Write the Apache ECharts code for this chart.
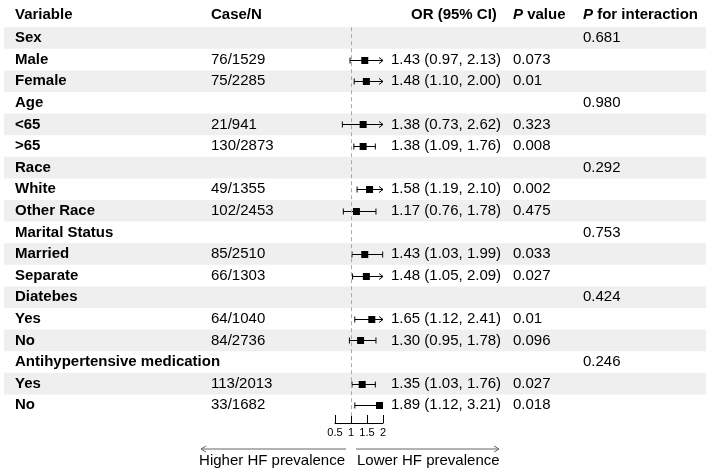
<!DOCTYPE html>
<html>
<head>
<meta charset="utf-8">
<title>Forest plot</title>
<script src="https://cdn.jsdelivr.net/npm/echarts@6/dist/echarts.min.js"></script>
<style>
  html, body { margin: 0; padding: 0; background: #fff; }
  #main { width: 706px; height: 472px; }
</style>
</head>
<body>
<div id="main"></div>
<script>
// rows, top to bottom
const variables = ['Sex', 'Male', 'Female', 'Age', '<65', '>65', 'Race', 'White', 'Other Race',
    'Marital Status', 'Married', 'Separate', 'Diatebes', 'Yes', 'No',
    'Antihypertensive medication', 'Yes', 'No'];
const caseN = ['', '76/1529', '75/2285', '', '21/941', '130/2873', '', '49/1355', '102/2453',
    '', '85/2510', '66/1303', '', '64/1040', '84/2736', '', '113/2013', '33/1682'];
const orValue = [null, 1.43, 1.48, null, 1.38, 1.38, null, 1.58, 1.17,
    null, 1.43, 1.48, null, 1.65, 1.30, null, 1.35, 1.89];
const ciLower = [null, 0.97, 1.10, null, 0.73, 1.09, null, 1.19, 0.76,
    null, 1.03, 1.05, null, 1.12, 0.95, null, 1.03, 1.12];
const ciUpper = [null, 2.13, 2.00, null, 2.62, 1.76, null, 2.10, 1.78,
    null, 1.99, 2.09, null, 2.41, 1.78, null, 1.76, 3.21];
const pValue = ['', '0.073', '0.01', '', '0.323', '0.008', '', '0.002', '0.475',
    '', '0.033', '0.027', '', '0.01', '0.096', '', '0.027', '0.018'];
const pInteraction = ['0.681', '', '', '0.980', '', '', '0.292', '', '',
    '0.753', '', '', '0.424', '', '', '0.246', '', ''];
const xTicks = [0.5, 1, 1.5, 2];

const FONT = '"Liberation Sans", Arial, Helvetica, sans-serif';
const X_MIN = xTicks[0], X_MAX = xTicks[xTicks.length - 1];
const rowIdx = variables.map((v, i) => String(i));

// layout
const TOP = 27.2, ROW_H = 21.6;
const HEIGHT = variables.length * ROW_H;
const col = { variable: 15, caseN: 211, or: 391, p: 513, inter: 583 };

function txt(x, y, text, bold) {
    return {
        type: 'text', x: x, y: y,
        style: {
            text: text, fill: '#000', fontSize: 15, fontFamily: FONT,
            fontWeight: bold ? 'bold' : 'normal', verticalAlign: 'middle'
        }
    };
}

let chart = echarts.init(document.getElementById('main'));

let forestData = [];
orValue.forEach((v, i) => {
    if (v != null) forestData.push([v, i, ciLower[i], ciUpper[i]]);
});

let option = {
    animation: false,
    backgroundColor: '#fff',
    grid: [
        // full width table with bands
        { left: 4, right: 0, top: TOP, height: HEIGHT },
        // forest plot
        { left: 335, width: 48, top: TOP, height: HEIGHT }
    ],
    xAxis: [
        { gridIndex: 0, type: 'value', min: 0, max: 1, show: false },
        {
            gridIndex: 1, type: 'value', min: X_MIN, max: X_MAX, interval: 0.5, offset: 7,
            axisLine: { show: true, lineStyle: { color: '#000', width: 1 } },
            axisTick: { show: true, inside: true, length: 8, lineStyle: { color: '#000' } },
            axisLabel: {
                color: '#000', fontSize: 11, fontFamily: FONT, margin: 4,
                formatter: (v) => String(v)
            },
            splitLine: { show: false }
        }
    ],
    yAxis: [
        {
            gridIndex: 0, type: 'category', inverse: true, data: rowIdx,
            axisLine: { show: false }, axisTick: { show: false }, axisLabel: { show: false },
            splitLine: { show: false },
            splitArea: { show: true, areaStyle: { color: ['#efefef', 'rgba(255,255,255,0)'] } }
        },
        {
            gridIndex: 1, type: 'category', inverse: true, data: rowIdx, show: false
        }
    ],
    graphic: [
        txt(col.variable, 15, 'Variable', true),
        txt(col.caseN, 15, 'Case/N', true),
        txt(411, 15, 'OR (95% CI)', true),
        {
            type: 'text', x: col.p, y: 15,
            style: {
                text: '{i|P} value', fill: '#000', fontSize: 15, fontFamily: FONT, fontWeight: 'bold',
                verticalAlign: 'middle',
                rich: { i: { fontStyle: 'italic', fontWeight: 'bold', fontSize: 15, fontFamily: FONT } }
            }
        },
        {
            type: 'text', x: col.inter, y: 15,
            style: {
                text: '{i|P} for interaction', fill: '#000', fontSize: 15, fontFamily: FONT, fontWeight: 'bold',
                verticalAlign: 'middle',
                rich: { i: { fontStyle: 'italic', fontWeight: 'bold', fontSize: 15, fontFamily: FONT } }
            }
        },
        // direction arrows under the axis
        { type: 'line', shape: { x1: 346, y1: 449, x2: 201, y2: 449 }, style: { stroke: '#666', lineWidth: 1 } },
        { type: 'polyline', shape: { points: [[206, 446], [201, 449], [206, 452]] }, style: { stroke: '#666', fill: null, lineWidth: 1 } },
        { type: 'line', shape: { x1: 356, y1: 449, x2: 499, y2: 449 }, style: { stroke: '#666', lineWidth: 1 } },
        { type: 'polyline', shape: { points: [[494, 446], [499, 449], [494, 452]] }, style: { stroke: '#666', fill: null, lineWidth: 1 } },
        {
            type: 'text', x: 345, y: 461,
            style: { text: 'Higher HF prevalence', fill: '#000', fontSize: 15, fontFamily: FONT, align: 'right', verticalAlign: 'middle' }
        },
        {
            type: 'text', x: 357, y: 461,
            style: { text: 'Lower HF prevalence', fill: '#000', fontSize: 15, fontFamily: FONT, align: 'left', verticalAlign: 'middle' }
        }
    ],
    series: [
        // table text
        {
            type: 'custom', xAxisIndex: 0, yAxisIndex: 0, silent: true,
            data: variables.map((v, i) => [0, i]),
            renderItem: (params, api) => {
                let i = params.dataIndex;
                let y = api.coord([0, i])[1];
                let children = [txt(col.variable, y, variables[i], true)];
                if (caseN[i]) children.push(txt(col.caseN, y, caseN[i], false));
                if (orValue[i] != null) {
                    let s = orValue[i].toFixed(2) + ' (' + ciLower[i].toFixed(2) + ', ' + ciUpper[i].toFixed(2) + ')';
                    children.push(txt(col.or, y, s, false));
                }
                if (pValue[i]) children.push(txt(col.p, y, pValue[i], false));
                if (pInteraction[i]) children.push(txt(col.inter, y, pInteraction[i], false));
                return { type: 'group', children: children };
            }
        },
        // OR and CI
        {
            type: 'custom', xAxisIndex: 1, yAxisIndex: 1, silent: true,
            encode: { x: 0, y: 1 },
            data: forestData,
            renderItem: (params, api) => {
                let row = api.value(1);
                let c = api.coord([api.value(0), row]);
                let lo = api.value(2), hi = api.value(3);
                let y = Math.round(c[1]) + 0.5;
                let xLo = api.coord([Math.max(lo, X_MIN), row])[0];
                let xHi = api.coord([Math.min(hi, X_MAX), row])[0];
                let st = { stroke: '#000', lineWidth: 1, fill: null };
                let children = [
                    { type: 'line', shape: { x1: xLo, y1: y, x2: xHi, y2: y }, style: st },
                    { type: 'line', shape: { x1: xLo, y1: y - 3, x2: xLo, y2: y + 3 }, style: st }
                ];
                if (hi >= X_MAX) {
                    children.push({ type: 'polyline', shape: { points: [[xHi - 4, y - 3], [xHi, y], [xHi - 4, y + 3]] }, style: st });
                } else {
                    children.push({ type: 'line', shape: { x1: xHi, y1: y - 3, x2: xHi, y2: y + 3 }, style: st });
                }
                children.push({ type: 'rect', shape: { x: c[0] - 3.5, y: y - 3.5, width: 7, height: 7 }, style: { fill: '#000' } });
                return { type: 'group', children: children };
            },
            markLine: {
                silent: true, symbol: 'none', animation: false,
                label: { show: false },
                lineStyle: { color: '#aaa', type: [4, 3], width: 1 },
                data: [{ xAxis: 1 }]
            }
        }
    ]
};

chart.setOption(option);

window.addEventListener('resize', function () {
    chart.resize();
});
</script>
</body>
</html>
